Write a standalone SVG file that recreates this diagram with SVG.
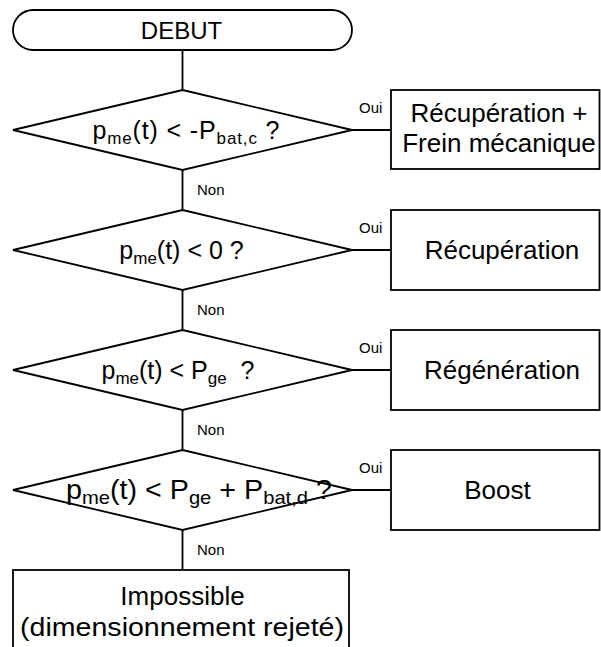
<svg xmlns="http://www.w3.org/2000/svg" width="601" height="647" viewBox="0 0 601 647">
  <style>
    .shape { fill: #ffffff; stroke: #000000; stroke-width: 1.8; }
    .line { fill: none; stroke: #000000; stroke-width: 1.8; }
    .txt { font-family: "Liberation Sans", Arial, sans-serif; font-size: 24px; fill: #000000; text-anchor: middle; }
    .box { font-size: 26px; }
    .cond { font-size: 25px; }
    .sub { font-size: 17px; }
    .lbl { font-family: "Liberation Sans", Arial, sans-serif; font-size: 15px; fill: #000000; }
  </style>
  <rect width="601" height="647" fill="#ffffff"/>

  <!-- connectors and their Oui / Non labels -->
  <g id="connectors">
    <path class="line" d="M182.5 50 V90"/>
    <path class="line" d="M182.5 170 V210"/>
    <path class="line" d="M182.5 290 V330"/>
    <path class="line" d="M182.5 410 V450"/>
    <path class="line" d="M182.5 530 V570"/>
    <path class="line" d="M352 130 H391"/>
    <path class="line" d="M352 250 H391"/>
    <path class="line" d="M352 370 H391"/>
    <path class="line" d="M352 490 H391"/>
    <text class="lbl" x="359" y="113">Oui</text>
    <text class="lbl" x="359" y="233">Oui</text>
    <text class="lbl" x="359" y="353">Oui</text>
    <text class="lbl" x="359" y="473">Oui</text>
    <text class="lbl" x="197" y="195">Non</text>
    <text class="lbl" x="197" y="315">Non</text>
    <text class="lbl" x="197" y="435">Non</text>
    <text class="lbl" x="197" y="555">Non</text>
  </g>

  <g id="debut">
    <rect class="shape" x="13" y="10" width="339" height="40" rx="20" ry="20"/>
    <text class="txt" x="181.5" y="38.5">DEBUT</text>
  </g>

  <g id="test1">
    <polygon class="shape" points="182.5,90 352,130 182.5,170 13,130"/>
    <text class="txt cond" x="186" y="139" textLength="187" lengthAdjust="spacing">p<tspan class="sub" dy="5">me</tspan><tspan dy="-5">(t) &lt; -P</tspan><tspan class="sub" dy="5">bat,c</tspan><tspan dy="-5"> ?</tspan></text>
  </g>

  <g id="test2">
    <polygon class="shape" points="182.5,210 352,250 182.5,290 13,250"/>
    <text class="txt cond" x="181.5" y="259">p<tspan class="sub" dy="5">me</tspan><tspan dy="-5">(t) &lt; 0 ?</tspan></text>
  </g>

  <g id="test3">
    <polygon class="shape" points="182.5,330 352,370 182.5,410 13,370"/>
    <text class="txt cond" x="178" y="379" xml:space="preserve">p<tspan class="sub" dy="5">me</tspan><tspan dy="-5">(t) &lt; P</tspan><tspan class="sub" dy="5">ge</tspan><tspan dy="-5">  ?</tspan></text>
  </g>

  <g id="test4">
    <polygon class="shape" points="182.5,450 352,490 182.5,530 13,490"/>
    <text class="txt cond" x="199" y="499" textLength="266" lengthAdjust="spacingAndGlyphs" style="font-size:27px">p<tspan class="sub" dy="5" style="font-size:19px">me</tspan><tspan dy="-5">(t) &lt; P</tspan><tspan class="sub" dy="5" style="font-size:19px">ge</tspan><tspan dy="-5"> + P</tspan><tspan class="sub" dy="5" style="font-size:19px">bat,d</tspan><tspan dy="-5"> ?</tspan></text>
  </g>

  <g id="recup-frein">
    <rect class="shape" x="391" y="90" width="208.5" height="79"/>
    <text class="txt box" x="499" y="122">Récupération +</text>
    <text class="txt box" x="499" y="152">Frein mécanique</text>
  </g>

  <g id="recup">
    <rect class="shape" x="391" y="210" width="208.5" height="80"/>
    <text class="txt box" x="502" y="259">Récupération</text>
  </g>

  <g id="regen">
    <rect class="shape" x="391" y="330" width="208.5" height="80"/>
    <text class="txt box" x="502" y="379">Régénération</text>
  </g>

  <g id="boost">
    <rect class="shape" x="391" y="450" width="208.5" height="80"/>
    <text class="txt box" x="497.5" y="499">Boost</text>
  </g>

  <g id="impossible">
    <rect class="shape" x="13" y="570" width="336" height="90"/>
    <text class="txt box" x="182.5" y="605">Impossible</text>
    <text class="txt box" x="182" y="636" textLength="324" lengthAdjust="spacingAndGlyphs">(dimensionnement rejeté)</text>
  </g>
</svg>
